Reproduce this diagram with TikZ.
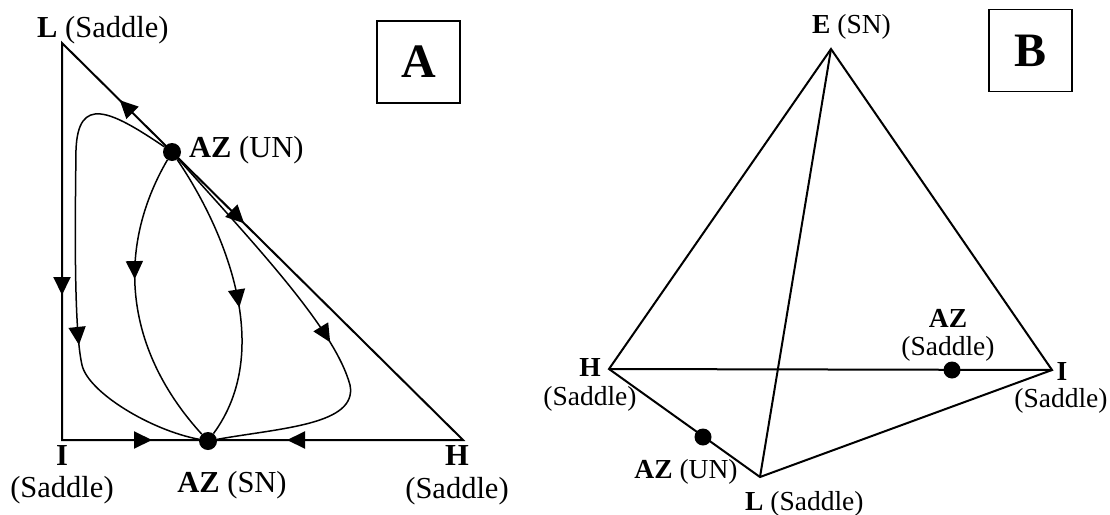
\documentclass[tikz,border=0pt]{standalone}
\usepackage{fontspec}
\setmainfont{Liberation Serif}
\usetikzlibrary{arrows.meta,decorations.markings}
\tikzset{
 edge/.style={line width=2pt,line join=miter},
 flow/.style={line width=1.5pt},
 dot/.style={circle,fill=black,inner sep=0pt,minimum size=#1},
 dot/.default=18pt,
 tip/.tip={Triangle[length=18pt,width=17pt]},
 arr/.style={postaction={decorate,decoration={markings,mark=at position #1 with {\arrow{tip}}}}},
 labA/.style={font=\fontsize{30.5}{30.5}\selectfont,inner sep=0pt},
 labB/.style={font=\fontsize{27.5}{27.5}\selectfont,inner sep=0pt},
 panelbox/.style={draw,line width=1.6pt,minimum width=83pt,minimum height=82pt,font=\fontsize{48}{48}\selectfont\bfseries,inner sep=0pt},
}
\begin{document}
\begin{tikzpicture}[x=1pt,y=-1pt]
\useasboundingbox (0,0) rectangle (1110,514);
% ---------- Panel A ----------
\coordinate (AL) at (62,43);
\coordinate (AI) at (62,440);
\coordinate (AH) at (463,440);
\draw[edge,postaction={decorate,decoration={markings,
  mark=at position 252pt with {\arrow{tip}},
  mark=at position 487pt with {\arrow{tip}},
  mark=at position 622pt with {\arrowreversed{tip}},
  mark=at position 1106pt with {\arrowreversed{tip}},
  mark=at position 1281pt with {\arrow{tip}}}}]
  (AL) -- (AI) -- (AH) -- cycle;
\node[dot] (AUN) at (172,152) {};
\node[dot] (ASN) at (208,441) {};
\draw[flow,arr=0.66] (AUN) .. controls (110,110) and (78,95) .. (76,150)
  .. controls (75,230) and (74,330) .. (82,365)
  .. controls (88,392) and (150,430) .. (ASN);
\draw[flow,arr=0.42] (AUN) .. controls (115,250) and (125,350) .. (ASN);
\draw[flow,arr=0.55] (AUN) .. controls (225,230) and (275,350) .. (ASN);
\draw[flow,arr=0.54] (AUN) .. controls (260,250) and (335,330) .. (350,385)
  .. controls (358,425) and (280,428) .. (ASN);
\node[labA,anchor=base west] (tL) at (37,37) {\textbf{L} (Saddle)};
\node[labA,anchor=base west] (tUN) at (189,157) {\textbf{AZ} (UN)};
\node[labA,anchor=base] (tI) at (62,465) {\textbf{I}};
\node[labA,anchor=base] (tIs) at (62,497) {(Saddle)};
\node[labA,anchor=base] (tSN) at (232,492) {\textbf{AZ} (SN)};
\node[labA,anchor=base] (tH) at (457,465) {\textbf{H}};
\node[labA,anchor=base] (tHs) at (457,498) {(Saddle)};
\node[panelbox] (boxA) at (418.5,62) {A};
% ---------- Panel B ----------
\coordinate (BE) at (831,49);
\coordinate (BH) at (609,369);
\coordinate (BI) at (1052,370);
\coordinate (BL) at (760,477);
\draw[edge] (BH) -- (BE) -- (BI) -- (BL) -- cycle;
\draw[edge] (BH) -- (BI);
\draw[edge] (BE) -- (BL);
\node[dot=17pt] (BS) at (952,370) {};
\node[dot=17pt] (BU) at (703,437) {};
\node[labB,anchor=base west] (tE) at (812,33) {\textbf{E} (SN)};
\node[labB,anchor=base] (tBH) at (590,376) {\textbf{H}};
\node[labB,anchor=base] (tBHs) at (590,405) {(Saddle)};
\node[labB,anchor=base] (tBI) at (1062,380) {\textbf{I}};
\node[labB,anchor=base] (tBIs) at (1061,407) {(Saddle)};
\node[labB,anchor=base] (tBS) at (948,327) {\textbf{AZ}};
\node[labB,anchor=base] (tBSs) at (948,355) {(Saddle)};
\node[labB,anchor=base] (tBU) at (686,478) {\textbf{AZ} (UN)};
\node[labB,anchor=base west] (tBL) at (745,510) {\textbf{L} (Saddle)};
\node[panelbox] (boxB) at (1030.5,50.5) {B};
\end{tikzpicture}
\end{document}
